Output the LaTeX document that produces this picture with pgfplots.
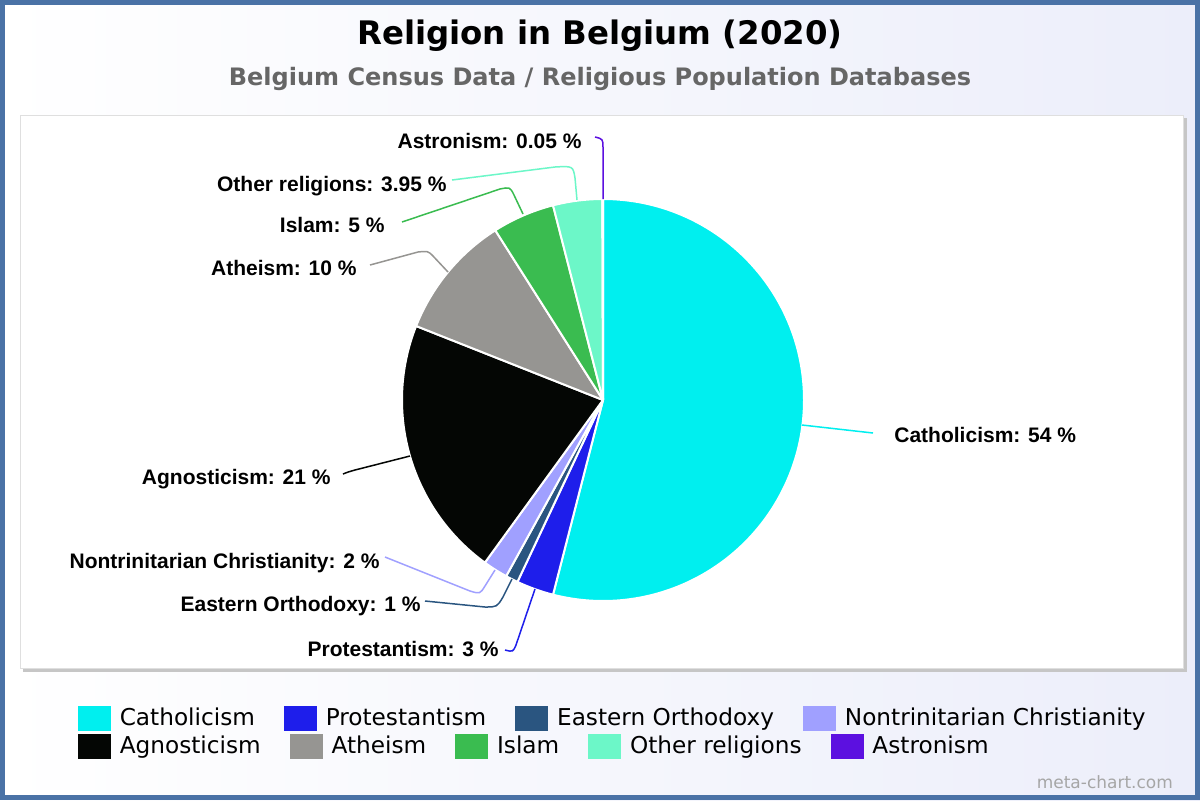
\documentclass[border=0pt]{standalone}
\usepackage{fontspec}
\setmainfont{DejaVu Sans}
\newfontfamily\labfont{Liberation Sans}
\usepackage{pgfplots}
\usepackage{pgfplotstable}
\pgfplotsset{compat=1.18}

\definecolor{cCath}{RGB}{0,239,239}
\definecolor{cProt}{RGB}{30,30,235}
\definecolor{cEast}{RGB}{42,85,128}
\definecolor{cNont}{RGB}{160,160,255}
\definecolor{cAgno}{RGB}{4,6,4}
\definecolor{cAthe}{RGB}{150,149,146}
\definecolor{cIsla}{RGB}{58,188,80}
\definecolor{cOthe}{RGB}{108,247,200}
\definecolor{cAstr}{RGB}{92,16,224}
\definecolor{frame}{RGB}{74,114,166}
\definecolor{subgray}{RGB}{102,102,102}

% share of population, in percent
\pgfplotstableread[col sep=comma]{
name,value,color
Catholicism,54,cCath
Protestantism,3,cProt
Eastern Orthodoxy,1,cEast
Nontrinitarian Christianity,2,cNont
Agnosticism,21,cAgno
Atheism,10,cAthe
Islam,5,cIsla
Other religions,3.95,cOthe
Astronism,0.05,cAstr
}\religion

\pgfplotsset{
  canvas/.style={
    width=600pt, height=400pt, scale only axis,
    xmin=0, xmax=1200, ymin=0, ymax=800, y dir=reverse,
    hide axis, clip=false,
    legend image code/.code={\fill[##1] (0pt,-6pt) rectangle (16pt,6pt); \path (20.5pt,0pt);},
    legend style={draw=none, fill=none, inner sep=0pt, outer sep=0pt,
      anchor=west, legend columns=-1,
      font=\fontsize{11.6}{13}\selectfont,
      /tikz/every even column/.append style={column sep=14.5pt},
      nodes={inner sep=0pt}},
    legend cell align=left,
  },
}
\tikzset{
  lab/.style={font=\labfont\bfseries\fontsize{10.5}{12}\selectfont, inner sep=0pt},
  lead/.style={line width=0.75pt},
}

\begin{document}
\begin{tikzpicture}
\begin{axis}[canvas, legend style={at={(0.065,0.1025)}}]
% background and frame
\fill[left color=white, right color={rgb,255:red,236;green,238;blue,250}]
  (axis cs:0,0) rectangle (axis cs:1200,800);
\draw[frame, line width=2.5pt] (axis cs:2.5,2.5) rectangle (axis cs:1197.5,797.5);
\fill[gray!45] (axis cs:23,118) rectangle (axis cs:1187,672);
\filldraw[fill=white, draw=gray!25, line width=0.5pt] (axis cs:20,115) rectangle (axis cs:1183,668);

% titles
\node[anchor=base, font=\bfseries\fontsize{16.2}{19}\selectfont] at (axis cs:600,44) {Religion in Belgium (2020)};
\node[anchor=base, text=subgray, font=\bfseries\fontsize{12}{14}\selectfont] at (axis cs:600,85) {Belgium Census Data / Religious Population Databases};
\node[anchor=base east, text=gray!70, font=\fontsize{8.5}{10}\selectfont] at (axis cs:1180,788) {meta-chart.com};

% pie slices, clockwise from 12 o'clock
\gdef\cum{0}
\pgfplotsinvokeforeach{0,...,8}{%
  \pgfplotstablegetelem{#1}{value}\of\religion
  \pgfmathsetmacro\sa{90-3.6*\cum}%
  \pgfmathsetmacro\sb{90-3.6*(\cum+\pgfplotsretval)}%
  \pgfmathsetmacro\newcum{\cum+\pgfplotsretval}%
  \xdef\cum{\newcum}%
  \pgfplotstablegetelem{#1}{color}\of\religion
  \edef\temp{\noexpand\fill[\pgfplotsretval, draw=white, line width=1pt, line join=round]
    (axis cs:603,400) -- ++(\sa:100.5pt) arc[start angle=\sa, end angle=\sb, radius=100.5pt] -- cycle;}%
  \temp
}

% leader lines
\draw[lead, cCath] (axis cs:802,425) -- (axis cs:873,433);
\draw[lead, cProt] (axis cs:535,589) -- (axis cs:516,645) .. controls (axis cs:513,652) .. (axis cs:505,650);
\draw[lead, cEast] (axis cs:512,579) -- (axis cs:503,597) .. controls (axis cs:497,607) .. (axis cs:485,607) -- (axis cs:425,601);
\draw[lead, cNont] (axis cs:495,570) -- (axis cs:485,586) .. controls (axis cs:480,594) .. (axis cs:470,591) -- (axis cs:385,557);
\draw[lead, cAgno] (axis cs:410,456) -- (axis cs:355,470) .. controls (axis cs:348,472) .. (axis cs:343,474);
\draw[lead, cAthe] (axis cs:448,272) -- (axis cs:433,256) .. controls (axis cs:428,251) .. (axis cs:418,252) -- (axis cs:370,265);
\draw[lead, cIsla] (axis cs:523,214) -- (axis cs:514,195) .. controls (axis cs:510,187) .. (axis cs:500,189) -- (axis cs:402,222);
\draw[lead, cOthe] (axis cs:577,200) -- (axis cs:575,178) .. controls (axis cs:573,166) .. (axis cs:555,167) -- (axis cs:452,180);
\draw[lead, cAstr] (axis cs:603,199) -- (axis cs:603,148) .. controls (axis cs:603,139) .. (axis cs:595,137);

% slice labels
\node[lab, anchor=base west] at (axis cs:894,442) {Catholicism: 54 \%};
\node[lab, anchor=base east] at (axis cs:499,656) {Protestantism: 3 \%};
\node[lab, anchor=base east] at (axis cs:421,611) {Eastern Orthodoxy: 1 \%};
\node[lab, anchor=base east] at (axis cs:380,568) {Nontrinitarian Christianity: 2 \%};
\node[lab, anchor=base east] at (axis cs:331,484) {Agnosticism: 21 \%};
\node[lab, anchor=base east] at (axis cs:357,275) {Atheism: 10 \%};
\node[lab, anchor=base east] at (axis cs:385,232) {Islam: 5 \%};
\node[lab, anchor=base east] at (axis cs:447,191) {Other religions: 3.95 \%};
\node[lab, anchor=base east] at (axis cs:582,148) {Astronism: 0.05 \%};

\addlegendimage{cCath}\addlegendentry{Catholicism}
\addlegendimage{cProt}\addlegendentry{Protestantism}
\addlegendimage{cEast}\addlegendentry{Eastern Orthodoxy}
\addlegendimage{cNont}\addlegendentry{Nontrinitarian Christianity}
\end{axis}

% second legend row
\begin{axis}[canvas, legend style={at={(0.065,0.0675)}}]
\addlegendimage{cAgno}\addlegendentry{Agnosticism}
\addlegendimage{cAthe}\addlegendentry{Atheism}
\addlegendimage{cIsla}\addlegendentry{Islam}
\addlegendimage{cOthe}\addlegendentry{Other religions}
\addlegendimage{cAstr}\addlegendentry{Astronism}
\end{axis}
\end{tikzpicture}
\end{document}
